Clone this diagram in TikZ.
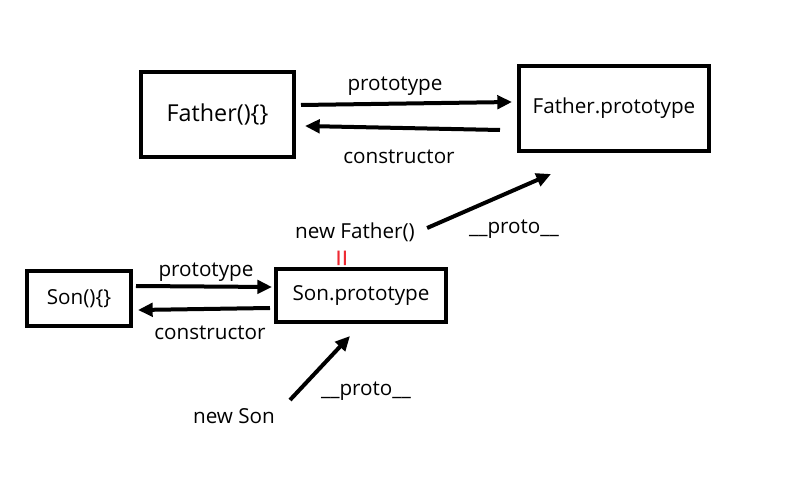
\documentclass[tikz,border=0pt]{standalone}
\usepackage{fontspec}
\setmainfont{Open Sans}
\usetikzlibrary{arrows.meta,calc}
\definecolor{eqred}{HTML}{EE2A33}
\begin{document}
\begin{tikzpicture}[x=0.75pt,y=-0.75pt,
  box/.style={draw,line width=3pt,inner sep=0pt,font=\fontsize{15.5}{18}\selectfont},
  lbl/.style={font=\fontsize{15.5}{18}\selectfont,inner sep=0pt},
  arr/.style={line width=3pt,-{Triangle[length=11pt,width=10pt]}}]
\useasboundingbox (0,0) rectangle (811,488);
\node[box,minimum width=114.75pt,minimum height=63.75pt,font=\fontsize{17.5}{20}\selectfont] (F) at (217.5,114.5) {Father()\{\}};
\node[box,minimum width=142.5pt,minimum height=63.75pt] (FP) at (614,108.5) {\raisebox{-2pt}{Father.prototype}};
\node[box,minimum width=78pt,minimum height=41.25pt] (S) at (79,298.5) {Son()\{\}};
\node[box,minimum width=127.5pt,minimum height=39.75pt] (SP) at (361,295.5) {Son.prototype};
% labels
\node[lbl] (l1) at (395,86) {prototype};
\node[lbl] (l2) at (399,157) {constructor};
\node[lbl] (nf) at (355,232) {new Father()};
\node[lbl] (p1) at (514,229) {\_\_proto\_\_};
\node[font=\fontsize{24}{26}\selectfont,inner sep=0pt,text=eqred,rotate=90] (eq) at (345.5,258) {=};
\node[lbl] (l3) at (206,272) {prototype};
\node[lbl] (l4) at (210,333) {constructor};
\node[lbl] (p2) at (366,391) {\_\_proto\_\_};
\node[lbl] (ns) at (234,416) {new Son};
% arrows
\draw[arr] ($(F.east)+(5,-9.5)$) -- ($(FP.west)+(-5,-6.5)$);
\draw[arr] ($(FP.west)+(-17,21.5)$) -- ($(F.east)+(9,11.5)$);
\draw[arr] ($(nf.east)+(12,-4)$) -- ($(FP.south)+(-63,21)$);
\draw[arr] ($(S.east)+(3,-12.5)$) -- ($(SP.west)+(-2,-8.5)$);
\draw[arr] ($(SP.west)+(-4,12.5)$) -- ($(S.east)+(5,11.5)$);
\draw[arr] ($(SP.south)+(-71,76)$) -- ($(SP.south)+(-11,12)$);
\end{tikzpicture}
\end{document}
